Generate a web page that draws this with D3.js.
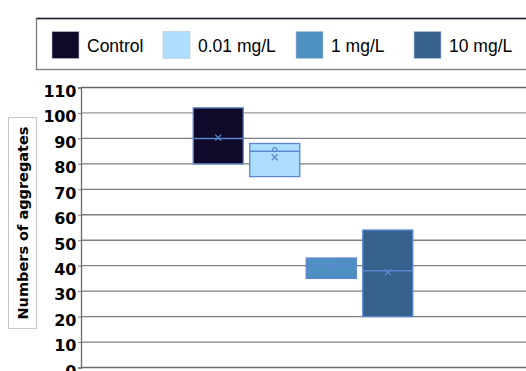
<!DOCTYPE html>
<html>
<head>
<meta charset="utf-8">
<script src="https://cdn.jsdelivr.net/npm/d3@7"></script>
<style>
  html, body { margin: 0; padding: 0; background: #fff; }
  svg { display: block; }
</style>
</head>
<body>
<svg id="chart" width="526" height="371"></svg>
<script>
// Treatment groups and their box statistics (numbers of aggregates)
const groups  = ["Control", "0.01 mg/L", "1 mg/L", "10 mg/L"];
const colors  = ["#100a2a", "#addeff", "#4e90c0", "#36618d"];
const q1      = [80, 75, 35, 20];
const median  = [90, 85, 40, 38];
const q3      = [102, 88, 43, 54];
const means   = [90.3, 82.6, 39.6, 37.4];
// Extra plotted points (group index, value)
const points  = [[1, 85.6]];
const yTicks  = [0, 10, 20, 30, 40, 50, 60, 70, 80, 90, 100, 110];
const yTitle  = "Numbers of aggregates";

const svg = d3.select("#chart");
const plot = { left: 81, right: 525, top: 87.5, bottom: 367.5 };
const outline = "#5b86d0";

const y = d3.scaleLinear().domain([0, 110]).range([plot.bottom, plot.top]);

// one category slot across the plot, series side-by-side inside it
const xCat = d3.scaleBand().domain(["all"]).range([plot.left, plot.right]).paddingOuter(0.511).paddingInner(0);
const xSer = d3.scaleBand().domain(groups).range([xCat("all"), xCat("all") + xCat.bandwidth()]).paddingInner(0.115).paddingOuter(0);

// gridlines
svg.append("g")
  .selectAll("line")
  .data(yTicks.filter(t => t > 0))
  .join("line")
  .attr("x1", plot.left).attr("x2", plot.right + 10)
  .attr("y1", d => y(d)).attr("y2", d => y(d))
  .attr("stroke", d => d === 110 ? "#666" : (d === 100 ? "#9a9a9a" : "#7f7f7f"))
  .attr("stroke-width", 1.3);

// y axis
const yAxis = d3.axisLeft(y).tickValues(yTicks).tickSize(3).tickPadding(2);
const ag = svg.append("g").attr("transform", `translate(${plot.left},0)`).call(yAxis);
ag.select(".domain").attr("stroke", "#6b6b6b").attr("stroke-width", 1.3);
ag.selectAll(".tick line").attr("stroke", "#7f7f7f");
ag.selectAll(".tick text")
  .attr("font-family", "DejaVu Sans, Verdana, sans-serif")
  .attr("font-weight", "bold")
  .attr("font-size", "16px")
  .attr("letter-spacing", "-0.3px")
  .attr("fill", "#000")
  .attr("dy", "0.55em");

// x baseline
svg.append("line")
  .attr("x1", plot.left).attr("x2", plot.right + 10)
  .attr("y1", y(0)).attr("y2", y(0))
  .attr("stroke", "#6b6b6b").attr("stroke-width", 1.3);

// boxes
const boxes = svg.append("g");
groups.forEach((g, i) => {
  const x0 = xSer(g), w = xSer.bandwidth();
  boxes.append("rect")
    .attr("x", x0).attr("y", y(q3[i]))
    .attr("width", w).attr("height", y(q1[i]) - y(q3[i]))
    .attr("fill", colors[i])
    .attr("stroke", outline).attr("stroke-width", 1.3);
  boxes.append("line")
    .attr("x1", x0).attr("x2", x0 + w)
    .attr("y1", y(median[i])).attr("y2", y(median[i]))
    .attr("stroke", outline).attr("stroke-width", 1.5);
  const cx = x0 + w / 2, cy = y(means[i]), s = 3;
  boxes.append("path")
    .attr("d", `M${cx - s},${cy - s}L${cx + s},${cy + s}M${cx - s},${cy + s}L${cx + s},${cy - s}`)
    .attr("stroke", outline).attr("stroke-width", 1.3).attr("fill", "none");
});
points.forEach(([i, v]) => {
  boxes.append("circle")
    .attr("cx", xSer(groups[i]) + xSer.bandwidth() / 2)
    .attr("cy", y(v))
    .attr("r", 2)
    .attr("fill", colors[i])
    .attr("stroke", outline).attr("stroke-width", 1.2);
});

// y axis title in a framed box
svg.append("rect")
  .attr("x", 8.5).attr("y", 117.5).attr("width", 28).attr("height", 211)
  .attr("fill", "#fff").attr("stroke", "#c8c8c8").attr("stroke-width", 1);
svg.append("text")
  .attr("transform", `translate(22.5,223) rotate(-90)`)
  .attr("text-anchor", "middle")
  .attr("dominant-baseline", "central")
  .attr("font-family", "DejaVu Sans, Verdana, sans-serif")
  .attr("font-weight", "bold")
  .attr("font-size", "14.5px")
  .attr("fill", "#000")
  .text(yTitle);

// legend
const legend = svg.append("g");
legend.append("rect")
  .attr("x", 36.5).attr("y", 18.5).attr("width", 500).attr("height", 51)
  .attr("fill", "#fff").attr("stroke", "#7a7a80").attr("stroke-width", 1.3);
legend.append("line")
  .attr("x1", 36.5).attr("x2", 526).attr("y1", 18.5).attr("y2", 18.5)
  .attr("stroke", "#1c1a30").attr("stroke-width", 1.3);
const swatchX = [52, 163, 296, 414];
groups.forEach((g, i) => {
  legend.append("rect")
    .attr("x", swatchX[i]).attr("y", 31.5).attr("width", 27).attr("height", 27)
    .attr("fill", colors[i]).attr("stroke", "#b9c6d8").attr("stroke-width", 0.6);
  legend.append("text")
    .attr("x", swatchX[i] + 35).attr("y", 52)
    .attr("font-family", "Liberation Sans, Arial, sans-serif")
    .attr("font-size", "17.5px")
    .attr("fill", "#000")
    .text(g);
});
</script>
</body>
</html>
